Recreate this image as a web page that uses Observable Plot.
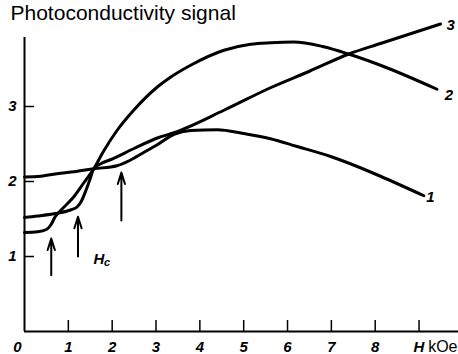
<!DOCTYPE html>
<html>
<head>
<meta charset="utf-8">
<script src="https://cdn.jsdelivr.net/npm/d3@7"></script>
<script src="https://cdn.jsdelivr.net/npm/@observablehq/plot@0.6"></script>
<style>
  html, body { margin: 0; padding: 0; background: #fff; }
  svg { display: block; }
</style>
</head>
<body>
<div id="chart"></div>
<script>
// Curve data: [H (kOe), signal]
const curve1 = [[0,2.06],[0.37,2.07],[0.82,2.11],[1.13,2.13],[1.58,2.17],[2.11,2.21],[2.4,2.28],[2.7,2.38],[3.03,2.49],[3.41,2.63],[3.79,2.68],[4.4,2.69],[5.0,2.64],[5.61,2.57],[6.2,2.47],[7.0,2.33],[7.88,2.13],[8.12,2.07],[9.11,1.81]];
const curve2 = [[0,1.32],[0.3,1.33],[0.5,1.36],[0.6,1.42],[0.7,1.53],[0.82,1.61],[1.13,1.8],[1.35,1.98],[1.58,2.17],[1.81,2.41],[2.11,2.68],[2.49,2.95],[3.03,3.26],[3.33,3.39],[3.79,3.55],[4.55,3.75],[5.16,3.83],[5.61,3.85],[6.14,3.86],[6.8,3.8],[7.39,3.7],[8.12,3.55],[9.41,3.23]];
const curve3 = [[0,1.52],[0.3,1.54],[0.67,1.57],[1.05,1.62],[1.2,1.66],[1.3,1.74],[1.4,1.88],[1.5,2.04],[1.58,2.17],[1.75,2.24],[1.96,2.29],[2.5,2.44],[3.03,2.58],[3.41,2.65],[4.55,2.95],[5.61,3.25],[6.5,3.47],[7.4,3.7],[8.12,3.84],[9.49,4.1]];

const xTickValues = [1,2,3,4,5,6,7,8,9];
const xTickLabels = ["1","2","3","4","5","6","7","8","H"];
const yTickValues = [1,2,3];
const yTickLabels = ["1","2","3"];

// Arrows marking Hc: x, from y1 to y2
const arrowX  = [0.61, 1.22, 2.21];
const arrowY1 = [0.75, 1.0, 1.48];
const arrowY2 = [1.24, 1.53, 2.12];

// Curve end labels
const curveLabels = ["1","2","3"];
const curveLabelX = [9.26, 9.68, 9.72];
const curveLabelY = [1.79, 3.15, 4.08];

const toRows = (pts, id) => pts.map(([x, y]) => ({x, y, id}));
const lines = [...toRows(curve1, 1), ...toRows(curve2, 2), ...toRows(curve3, 3)];
const arrows = arrowX.map((x, i) => ({x, y1: arrowY1[i], y2: arrowY2[i]}));
const labels = curveLabels.map((t, i) => ({t, x: curveLabelX[i], y: curveLabelY[i]}));

const numFont = {fontFamily: "Liberation Sans, Arial, sans-serif", fontWeight: "bold", fontStyle: "italic", fontSize: 15, fill: "black"};

const plot = Plot.plot({
  width: 458,
  height: 354,
  marginLeft: 24,
  marginRight: 0,
  marginTop: 31,
  marginBottom: 23,
  x: {domain: [0, 9.9], axis: null},
  y: {domain: [0, 4], axis: null},
  style: {background: "white", overflow: "visible"},
  marks: [
    // axes lines
    Plot.ruleY([0], {x1: 0, x2: 9.9, stroke: "black", strokeWidth: 2}),
    Plot.ruleX([0], {y1: 0, y2: 3.92, stroke: "black", strokeWidth: 2}),
    // inward ticks
    Plot.ruleX(xTickValues, {x: d => d, insetTop: 289, stroke: "black", strokeWidth: 1.5}),
    Plot.ruleY(yTickValues, {y: d => d, insetRight: 424, stroke: "black", strokeWidth: 1.5}),
    // tick labels
    Plot.text(xTickValues, {x: d => d, y: 0, text: (d, i) => xTickLabels[i], dy: 16, ...numFont}),
    Plot.text([0], {x: 0, y: 0, text: () => "0", dx: -7, dy: 16, ...numFont}),
    Plot.text(yTickValues, {x: 0, y: d => d, text: (d, i) => yTickLabels[i], dx: -8, textAnchor: "end", ...numFont}),
    // unit
    Plot.text(["kOe"], {x: 9.9, y: 0, text: d => d, dy: 15, dx: -1, textAnchor: "end", fontFamily: "Liberation Sans, Arial, sans-serif", fontSize: 16, fill: "black"}),
    // title
    Plot.text(["Photoconductivity signal"], {frameAnchor: "top-left", text: d => d, dx: -14, dy: -12, lineAnchor: "bottom", textAnchor: "start", fontFamily: "Liberation Sans, Arial, sans-serif", fontSize: 21, fill: "black"}),
    // curves
    Plot.line(lines, {x: "x", y: "y", z: "id", curve: "monotone-x", stroke: "black", strokeWidth: 3}),
    // arrows
    Plot.arrow(arrows, {x: "x", y1: "y1", y2: "y2", stroke: "black", strokeWidth: 2, headLength: 9, headAngle: 35}),
    // Hc label
    Plot.text([0], {x: 1.7, y: 0.97, text: () => "H", ...numFont}),
    Plot.text([0], {x: 1.7, y: 0.97, text: () => "c", dx: 8, dy: 4, ...numFont, fontSize: 11}),
    // curve labels
    Plot.text(labels, {x: "x", y: "y", text: "t", ...numFont})
  ]
});
document.getElementById("chart").append(plot);
</script>
</body>
</html>
